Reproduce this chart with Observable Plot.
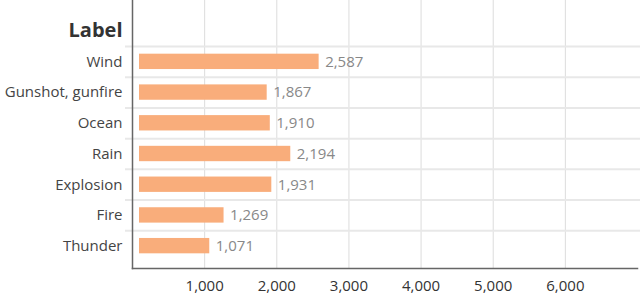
<!DOCTYPE html>
<html>
<head>
<meta charset="utf-8">
<script src="https://cdn.jsdelivr.net/npm/d3@7"></script>
<script src="https://cdn.jsdelivr.net/npm/@observablehq/plot@0.6"></script>
<style>
  html, body { margin: 0; padding: 0; background: #fff; }
</style>
</head>
<body>
<div id="chart"></div>
<script>
const labels = ["Wind", "Gunshot, gunfire", "Ocean", "Rain", "Explosion", "Fire", "Thunder"];
const values = [2587, 1867, 1910, 2194, 1931, 1269, 1071];
const xTicks = [1000, 2000, 3000, 4000, 5000, 6000];
const axisTitle = "Label";

const data = labels.map((label, i) => ({label, value: values[i]}));
const fmt = d3.format(",");

const chart = Plot.plot({
  width: 640,
  height: 294,
  marginLeft: 132,
  marginRight: 3,
  marginTop: 0,
  marginBottom: 26,
  style: {fontFamily: "'Open Sans', sans-serif", fontSize: "15px", background: "#fff", color: "#333"},
  x: {domain: [0, 7000]},
  y: {domain: labels, range: [46, 261], paddingInner: 0.5, paddingOuter: 0.25, round: false},
  marks: [
    Plot.gridX(xTicks, {stroke: "#dcdcdc", strokeOpacity: 1}),
    Plot.ruleY(labels, {y: d => d, dy: -15.35, stroke: "#e8e8e8", strokeWidth: 2, insetLeft: -7, insetRight: -3}),
    Plot.barX(data, {x: "value", y: "label", fill: "#f9ad7b", insetLeft: 7}),
    Plot.text(data, {x: "value", y: "label", text: d => fmt(d.value), textAnchor: "start", dx: 6, fill: "#888", fontSize: 15}),
    Plot.frame({anchor: "left", stroke: "#666", strokeWidth: 1.5}),
    Plot.frame({anchor: "bottom", stroke: "#666", strokeWidth: 1.5}),
    Plot.axisX({ticks: xTicks, tickFormat: fmt, tickSize: 0, tickPadding: 12, label: null, fill: "#333", fontSize: 15}),
    Plot.axisY({tickSize: 0, tickPadding: 10, label: null, fill: "#444", fontSize: 15}),
    Plot.text([axisTitle], {frameAnchor: "top-left", textAnchor: "end", dx: -10, dy: 22, fontSize: 20, fontWeight: "bold", fill: "#333"})
  ]
});
document.getElementById("chart").appendChild(chart);
</script>
</body>
</html>
